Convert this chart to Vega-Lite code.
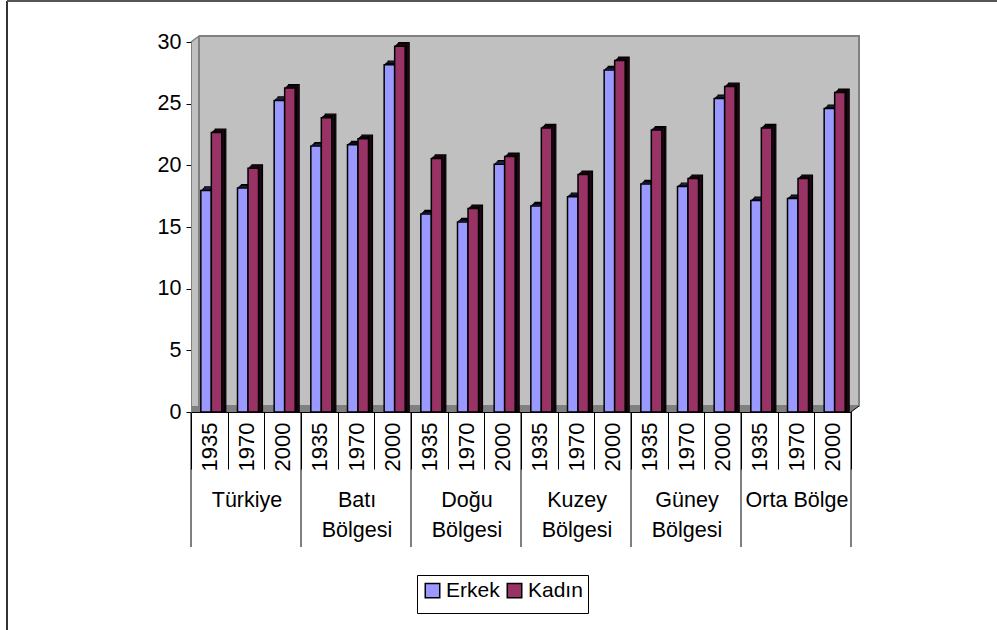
{"$schema":"https://vega.github.io/schema/vega-lite/v6.json","width":660,"height":370,"autosize":{"type":"none"},"padding":{"left":191,"top":42,"right":146,"bottom":218},"background":"#ffffff","config":{"view":{"stroke":null},"font":"Liberation Sans"},
"datasets":{"bars":[
{"key":"Türkiye|1935","series":"Erkek","value":17.8},{"key":"Türkiye|1935","series":"Kadın","value":22.5},
{"key":"Türkiye|1970","series":"Erkek","value":18.0},{"key":"Türkiye|1970","series":"Kadın","value":19.6},
{"key":"Türkiye|2000","series":"Erkek","value":25.1},{"key":"Türkiye|2000","series":"Kadın","value":26.1},
{"key":"Batı Bölgesi|1935","series":"Erkek","value":21.4},{"key":"Batı Bölgesi|1935","series":"Kadın","value":23.7},
{"key":"Batı Bölgesi|1970","series":"Erkek","value":21.5},{"key":"Batı Bölgesi|1970","series":"Kadın","value":22.0},
{"key":"Batı Bölgesi|2000","series":"Erkek","value":28.0},{"key":"Batı Bölgesi|2000","series":"Kadın","value":29.5},
{"key":"Doğu Bölgesi|1935","series":"Erkek","value":15.9},{"key":"Doğu Bölgesi|1935","series":"Kadın","value":20.4},
{"key":"Doğu Bölgesi|1970","series":"Erkek","value":15.25},{"key":"Doğu Bölgesi|1970","series":"Kadın","value":16.33},
{"key":"Doğu Bölgesi|2000","series":"Erkek","value":19.93},{"key":"Doğu Bölgesi|2000","series":"Kadın","value":20.55},
{"key":"Kuzey Bölgesi|1935","series":"Erkek","value":16.55},{"key":"Kuzey Bölgesi|1935","series":"Kadın","value":22.87},
{"key":"Kuzey Bölgesi|1970","series":"Erkek","value":17.3},{"key":"Kuzey Bölgesi|1970","series":"Kadın","value":19.09},
{"key":"Kuzey Bölgesi|2000","series":"Erkek","value":27.57},{"key":"Kuzey Bölgesi|2000","series":"Kadın","value":28.33},
{"key":"Güney Bölgesi|1935","series":"Erkek","value":18.33},{"key":"Güney Bölgesi|1935","series":"Kadın","value":22.7},
{"key":"Güney Bölgesi|1970","series":"Erkek","value":18.12},{"key":"Güney Bölgesi|1970","series":"Kadın","value":18.77},
{"key":"Güney Bölgesi|2000","series":"Erkek","value":25.25},{"key":"Güney Bölgesi|2000","series":"Kadın","value":26.23},
{"key":"Orta Bölge|1935","series":"Erkek","value":16.98},{"key":"Orta Bölge|1935","series":"Kadın","value":22.87},
{"key":"Orta Bölge|1970","series":"Erkek","value":17.14},{"key":"Orta Bölge|1970","series":"Kadın","value":18.77},
{"key":"Orta Bölge|2000","series":"Erkek","value":24.44},{"key":"Orta Bölge|2000","series":"Kadın","value":25.74}],
"groups":[
{"first":"Türkiye|1935","mid":"Türkiye|1970","label":"Türkiye"},
{"first":"Batı Bölgesi|1935","mid":"Batı Bölgesi|1970","label":"Batı|Bölgesi"},
{"first":"Doğu Bölgesi|1935","mid":"Doğu Bölgesi|1970","label":"Doğu|Bölgesi"},
{"first":"Kuzey Bölgesi|1935","mid":"Kuzey Bölgesi|1970","label":"Kuzey|Bölgesi"},
{"first":"Güney Bölgesi|1935","mid":"Güney Bölgesi|1970","label":"Güney|Bölgesi"},
{"first":"Orta Bölge|1935","mid":"Orta Bölge|1970","label":"Orta Bölge"}]},
"resolve":{"scale":{"x":"independent"},"axis":{"x":"independent"}},
"layer":[
{"data":{"values":[{}]},
"layer":[
{"mark":{"type":"rect","fill":"#c0c0c0","x2Offset":8,"y2Offset":-6,"clip":false},"encoding":{"x":{"datum":0,"type":"quantitative","scale":{"domain":[0,1]},"axis":null},"x2":{"datum":0},"y":{"datum":0,"type":"quantitative","scale":{"domain":[0,30],"nice":false},"axis":{"title":null,"values":[0,5,10,15,20,25,30],"grid":false,"labelFontSize":21.5,"labelColor":"#000000","labelPadding":5,"tickSize":5,"tickColor":"#000000","domainColor":"#808080","zindex":1}},"y2":{"datum":30}}},
{"mark":{"type":"rect","fill":"#808080","x2Offset":8,"yOffset":-6},"encoding":{"x":{"datum":0,"type":"quantitative","axis":null},"x2":{"datum":1},"y":{"datum":0,"type":"quantitative"},"y2":{"datum":0}}},
{"mark":{"type":"rect","fill":"#c0c0c0","stroke":"#808080","strokeWidth":2,"xOffset":8,"x2Offset":8,"yOffset":-6,"y2Offset":-6},"encoding":{"x":{"datum":0,"type":"quantitative","axis":null},"x2":{"datum":1},"y":{"datum":0,"type":"quantitative"},"y2":{"datum":30}}},
{"mark":{"type":"rule","stroke":"#ffffff","strokeWidth":8,"xOffset":-2.4,"x2Offset":5.6,"yOffset":-3.2,"y2Offset":-9.2},"encoding":{"x":{"datum":0,"type":"quantitative","axis":null},"x2":{"datum":0},"y":{"datum":30,"type":"quantitative"},"y2":{"datum":30}}},
{"mark":{"type":"rule","stroke":"#ffffff","strokeWidth":8,"xOffset":2.4,"x2Offset":10.4,"yOffset":3.2,"y2Offset":-2.8},"encoding":{"x":{"datum":1,"type":"quantitative","axis":null},"x2":{"datum":1},"y":{"datum":0,"type":"quantitative"},"y2":{"datum":0}}},
{"mark":{"type":"rule","stroke":"#808080","strokeWidth":1.5,"x2Offset":8,"y2Offset":-6},"encoding":{"x":{"datum":0,"type":"quantitative","axis":null},"x2":{"datum":0},"y":{"datum":30,"type":"quantitative"},"y2":{"datum":30}}},
{"mark":{"type":"rule","stroke":"#000000","strokeWidth":1,"x2Offset":8,"y2Offset":-6},"encoding":{"x":{"datum":1,"type":"quantitative","axis":null},"x2":{"datum":1},"y":{"datum":0,"type":"quantitative"},"y2":{"datum":0}}},
{"mark":{"type":"rule","stroke":"#000000","strokeWidth":1,"y2Offset":135},"encoding":{"x":{"datum":1,"type":"quantitative","axis":null},"y":{"datum":0,"type":"quantitative"},"y2":{"datum":0}}},
{"mark":{"type":"rule","stroke":"#333333","strokeWidth":2,"xOffset":-184,"yOffset":-41,"y2Offset":218},"encoding":{"x":{"datum":0,"type":"quantitative","axis":null},"y":{"datum":30,"type":"quantitative"},"y2":{"datum":0}}},
{"mark":{"type":"rule","stroke":"#555555","strokeWidth":2,"xOffset":-184,"x2Offset":146,"yOffset":-41},"encoding":{"x":{"datum":0,"type":"quantitative","axis":null},"x2":{"datum":1},"y":{"datum":30,"type":"quantitative"}}}
]},
{"layer":[
{"data":{"name":"bars"},
"resolve":{"scale":{"xOffset":"independent"}},
"encoding":{
"x":{"field":"key","type":"nominal","sort":null,"scale":{"paddingInner":0,"paddingOuter":0},"axis":{"title":null,"labelExpr":"split(datum.value,'|')[1]","labelAngle":-90,"labelFontSize":22,"labelColor":"#000000","labelPadding":-47,"tickSize":57,"tickBand":"extent","tickColor":"#000000","domainColor":"#000000","labelOverlap":false,"labelBound":false,"labelFlush":false,"zindex":1}},
"y":{"field":"value","type":"quantitative","stack":null}},
"layer":[
{"mark":{"type":"bar","yOffset":-5.5,"y2Offset":-5.5,"stroke":"#000000","strokeWidth":1.2},"encoding":{"xOffset":{"field":"series","type":"nominal","sort":null,"scale":{"paddingInner":0,"paddingOuter":0,"range":[13.83,34.83]}},"fill":{"condition":{"test":"datum.series==='Erkek'","value":"#6666cc"},"value":"#4a1030"}}},
{"mark":{"type":"bar","yOffset":-4.4,"y2Offset":-4.4,"stroke":"#000000","strokeWidth":1},"encoding":{"xOffset":{"field":"series","type":"nominal","sort":null,"scale":{"paddingInner":0,"paddingOuter":0,"range":[12.53,33.53]}},"fill":{"condition":{"test":"datum.series==='Erkek'","value":"#6666cc"},"value":"#4a1030"}}},
{"mark":{"type":"bar","yOffset":-3.2,"y2Offset":-3.2,"stroke":"#000000","strokeWidth":1},"encoding":{"xOffset":{"field":"series","type":"nominal","sort":null,"scale":{"paddingInner":0,"paddingOuter":0,"range":[11.13,32.13]}},"fill":{"condition":{"test":"datum.series==='Erkek'","value":"#6666cc"},"value":"#4a1030"}}},
{"mark":{"type":"bar","yOffset":-2,"y2Offset":-2,"stroke":"#000000","strokeWidth":1.5},"encoding":{"xOffset":{"field":"series","type":"nominal","sort":null,"scale":{"paddingInner":0,"paddingOuter":0,"range":[9.83,30.83]}},"fill":{"field":"series","type":"nominal","sort":null,"scale":{"domain":["Erkek","Kadın"],"range":["#9999ff","#993366"]},"legend":{"orient":"none","legendX":226,"legendY":533,"direction":"horizontal","title":" ","titleOrient":"bottom","titleFontSize":7,"titlePadding":0,"symbolType":"square","symbolSize":210,"symbolStrokeColor":"#000000","symbolStrokeWidth":1.5,"labelFontSize":21,"labelColor":"#000000","labelOffset":3,"columnPadding":4,"strokeColor":"#000000","fillColor":"#ffffff","padding":5}}}}
]},
{"data":{"name":"groups"},"mark":{"type":"rule","stroke":"#000000","strokeWidth":1,"y2Offset":135},"encoding":{"x":{"field":"first","type":"nominal","sort":null,"bandPosition":0},"y":{"datum":0,"type":"quantitative"},"y2":{"datum":0}}},
{"data":{"name":"groups"},"mark":{"type":"text","fontSize":21.5,"color":"#000000","lineBreak":"|","lineHeight":30,"baseline":"alphabetic","align":"center","yOffset":95,"xOffset":1},"encoding":{"x":{"field":"mid","type":"nominal","sort":null},"y":{"datum":0,"type":"quantitative"},"text":{"field":"label"}}}
]}
]}
